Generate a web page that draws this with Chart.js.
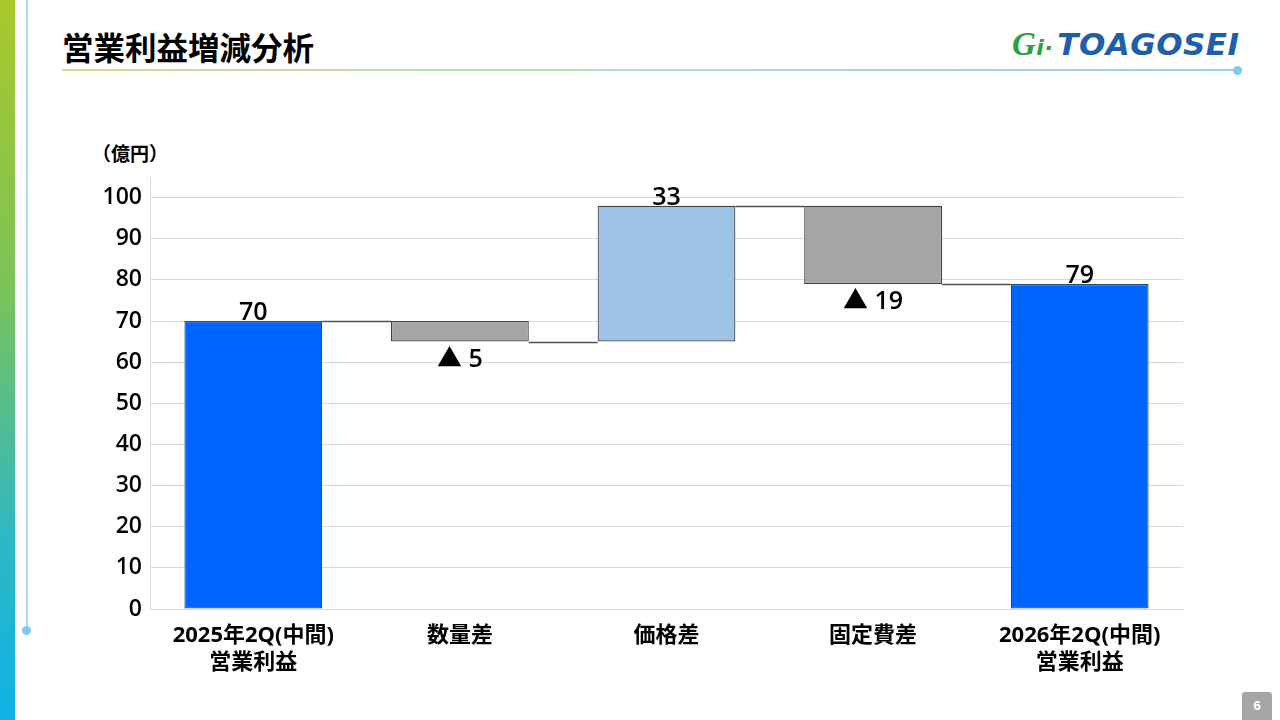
<!DOCTYPE html>
<html>
<head>
<meta charset="utf-8">
<script src="https://cdn.jsdelivr.net/npm/chart.js@4.4.1/dist/chart.umd.min.js"></script>
<style>
  html,body{margin:0;padding:0;width:1280px;height:720px;overflow:hidden;background:#fff;font-family:"Noto Sans CJK JP","Noto Sans",sans-serif;}
  #leftbar{position:absolute;left:0;top:0;width:15px;height:720px;background:linear-gradient(to bottom,#a9c82a 0%,#7cc25a 40%,#2db8c4 75%,#0fb2e6 100%);}
  #vline{position:absolute;left:26px;top:0;width:1.5px;height:630px;background:#a9d9ef;}
  #vdot{position:absolute;left:22px;top:626px;width:9px;height:9px;border-radius:50%;background:#7fcbee;}
  #title{position:absolute;left:62px;top:23px;font-size:31.5px;font-weight:700;color:#000;}
  #hline{position:absolute;left:62px;top:69px;width:1175px;height:2px;background:linear-gradient(to right,#c9de8c,#b6dcc0 50%,#8fd2ee);}
  #hdot{position:absolute;left:1233px;top:65.5px;width:9px;height:9px;border-radius:50%;background:#7fcbee;}
  #logo{position:absolute;left:1012px;top:26px;font-family:"DejaVu Sans",sans-serif;font-style:italic;font-weight:700;font-size:31px;color:#1f5ea9;letter-spacing:0.5px;}
  #logo .g{color:#2e9e3e;font-family:"Liberation Serif",serif;font-size:33px;}
  #logo .dot{color:#2e9e3e;font-size:22px;margin-right:4px;}
  #unit{position:absolute;left:92px;top:139px;font-size:19px;font-weight:700;color:#000;}
  #page{position:absolute;left:1242px;top:692px;width:30px;height:28px;background:#a6a6a6;border-radius:3px 3px 0 0;color:#fff;font-size:13px;font-weight:700;text-align:center;line-height:28px;font-family:"Liberation Sans",sans-serif;}
  #wrap{position:absolute;left:0;top:0;width:1280px;height:720px;}
</style>
</head>
<body>
<div id="leftbar"></div>
<div id="vline"></div>
<div id="vdot"></div>
<div id="title">営業利益増減分析</div>
<div id="hline"></div>
<div id="hdot"></div>
<div id="logo"><span class="g">G</span><span class="dot">i·</span>TOAGOSEI</div>
<div id="unit">（億円）</div>
<div id="page">6</div>
<div id="wrap"><canvas id="c" width="1280" height="720"></canvas></div>
<script>
// ---- data ----
const categories = [['2025年2Q(中間)','営業利益'], '数量差', '価格差', '固定費差', ['2026年2Q(中間)','営業利益']];
const changes = [70, -5, 33, -19, 79];
const kinds = ['total', 'delta', 'delta', 'delta', 'total'];
const valueLabels = ['70', '▲ 5', '33', '▲ 19', '79'];
const yTicks = [0, 10, 20, 30, 40, 50, 60, 70, 80, 90, 100];

// build floating ranges
const ranges = [];
let running = 0;
changes.forEach((v, i) => {
  if (kinds[i] === 'total') { ranges.push([0, v]); running = v; }
  else { ranges.push([running, running + v]); running += v; }
});
const colors = changes.map((v, i) => kinds[i] === 'total' ? '#0066ff' : (v >= 0 ? '#9dc3e6' : '#a5a5a5'));
const borders = changes.map((v, i) => kinds[i] === 'total' ? '#2f4a78' : '#404040');

const FONT = '"Noto Sans CJK JP","Noto Sans",sans-serif';
const NUMFONT = '"Open Sans","Noto Sans CJK JP",sans-serif';

const waterfallPlugin = {
  id: 'waterfall',
  afterDatasetsDraw(chart) {
    const ctx = chart.ctx;
    const meta = chart.getDatasetMeta(0);
    const y = chart.scales.y;
    ctx.save();
    // connectors
    ctx.strokeStyle = '#505050';
    ctx.lineWidth = 1.5;
    for (let i = 0; i < meta.data.length - 1; i++) {
      const b = meta.data[i], n = meta.data[i + 1];
      const level = ranges[i][1];
      const py = Math.round(y.getPixelForValue(level)) + 0.5;
      ctx.beginPath();
      ctx.moveTo(b.x + b.width / 2, py);
      ctx.lineTo(n.x - n.width / 2, py);
      ctx.stroke();
    }
    // labels
    ctx.fillStyle = '#000';
    ctx.textAlign = 'center';
    ctx.font = '600 25px ' + NUMFONT;
    meta.data.forEach((b, i) => {
      const r = ranges[i];
      const top = Math.max(r[0], r[1]), bot = Math.min(r[0], r[1]);
      ctx.textBaseline = 'alphabetic';
      if (changes[i] >= 0) {
        ctx.fillText(valueLabels[i], b.x, y.getPixelForValue(top) - 1);
      } else {
        ctx.fillText(valueLabels[i], b.x, y.getPixelForValue(bot) + 25);
      }
    });
    ctx.restore();
  }
};

new Chart(document.getElementById('c'), {
  type: 'bar',
  data: {
    labels: categories,
    datasets: [{
      data: ranges,
      backgroundColor: colors,
      borderColor: borders,
      borderWidth: 1.2,
      borderSkipped: false,
      barPercentage: 0.667,
      categoryPercentage: 1.0
    }]
  },
  options: {
    responsive: false,
    animation: false,
    devicePixelRatio: 1,
    layout: { padding: { left: 60, right: 97, top: 177, bottom: 0 } },
    plugins: { legend: { display: false }, tooltip: { enabled: false } },
    scales: {
      x: {
        grid: { display: false },
        border: { color: '#d9d9d9', width: 1 },
        ticks: { color: '#000', font: { family: NUMFONT, size: 22, weight: 'bold', lineHeight: 1.2 }, padding: 6, maxRotation: 0, autoSkip: false },
        afterFit(s) { s.height = 111; }
      },
      y: {
        min: 0, max: 105,
        afterBuildTicks(s) { s.ticks = yTicks.map(v => ({ value: v })); },
        grid: { color: '#d9d9d9', lineWidth: 1, drawTicks: false },
        border: { color: '#d9d9d9', width: 1 },
        ticks: { color: '#000', font: { family: NUMFONT, size: 23, weight: '600' }, padding: 8 },
        afterFit(s) { s.width = 90; }
      }
    }
  },
  plugins: [waterfallPlugin]
});
</script>
</body>
</html>
